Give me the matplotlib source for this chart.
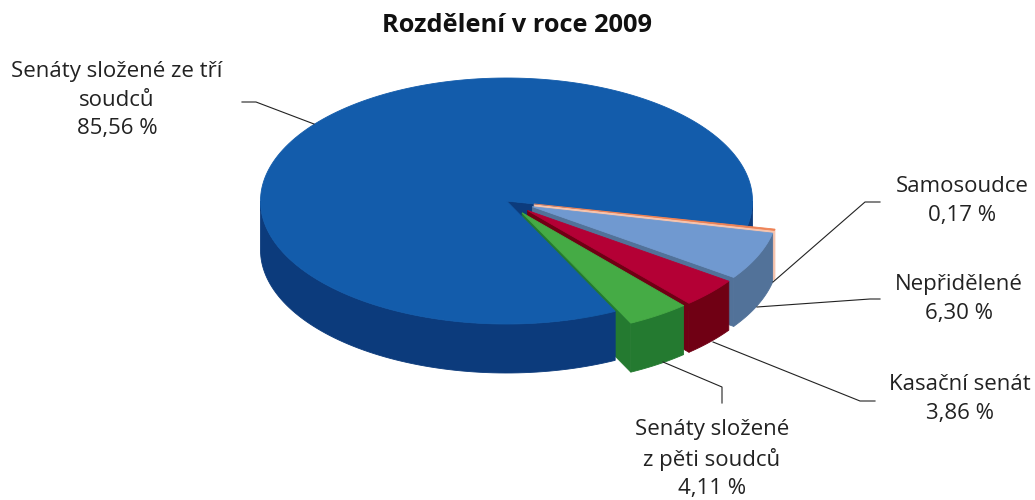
import numpy as np
import matplotlib
matplotlib.use("Agg")
import matplotlib.pyplot as plt
from matplotlib.patches import Polygon

plt.rcParams["font.family"] = ["Open Sans", "DejaVu Sans"]

# hodnoty v procentech, proti smeru hodinovych rucicek od zacatku hlavni vysece
labels = ["Senáty složené ze tří\nsoudců\n85,56 %", "Senáty složené\nz pěti soudců\n4,11 %",
          "Kasační senát\n3,86 %", "Nepřidělené\n6,30 %", "Samosoudce\n0,17 %"]
values = [85.56, 4.11, 3.86, 6.30, 0.17]
top_colors = ["#135CAB", "#45AB45", "#B40035", "#7099D0", "#EE8255"]
side_colors = ["#0C3B7C", "#247A30", "#700014", "#527299", "#F6C4AE"]

# geometrie v pixelech
cx, cy = 506.5, 201
rx, ry = 246, 123
depth = 49
start = -11.8 - 360
explode = [0, 0.115, 0.115, 0.115, 0.115]

fig = plt.figure(figsize=(10.35, 5), dpi=100)
ax = fig.add_axes([0, 0, 1, 1])
ax.set_xlim(0, 1035)
ax.set_ylim(500, 0)
ax.axis("off")


def point(t, ox=0, oy=0, down=0):
    t = np.radians(t)
    return np.column_stack([cx + ox + rx * np.cos(t), cy + oy - ry * np.sin(t) + down])


def fill(pts, color, edge=None):
    ax.add_patch(Polygon(pts, closed=True, facecolor=color, edgecolor=edge or color, linewidth=0.6))


def arc_wall(a, b, color, ox=0, oy=0):
    t = np.linspace(a, b, 80)
    fill(np.vstack([point(t, ox, oy), point(t[::-1], ox, oy, depth)]), color)


def cut_wall(a, color, ox=0, oy=0):
    o = np.array([[cx + ox, cy + oy]])
    fill(np.vstack([o, point(a, ox, oy), point(a, ox, oy, depth), o + [0, depth]]), color)


def top(a, b, color, ox=0, oy=0):
    t = np.linspace(a, b, 200)
    fill(np.vstack([[[cx + ox, cy + oy]], point(t, ox, oy)]), color)


# uhly vsech vyseci
angles = start + np.cumsum([0] + [v * 3.6 for v in values])
slices = []
for i in range(len(values)):
    mid = np.radians((angles[i] + angles[i + 1]) / 2)
    ox = explode[i] * rx * np.cos(mid)
    oy = -explode[i] * ry * np.sin(mid)
    slices.append((angles[i], angles[i + 1], ox, oy))

main_a, main_b = slices[0][0], slices[0][1]

# hlavni vysec - zadni casti
cut_wall(main_a, side_colors[0])
arc_wall(main_a, -360, side_colors[0])

# odtrzene vysece - steny odzadu dopredu
for i in [4, 3, 2, 1]:
    a, b, ox, oy = slices[i]
    cut_wall(a, side_colors[i], ox, oy)
    arc_wall(a, b, side_colors[i], ox, oy)

# hlavni vysec - predni stena a vrch
arc_wall(-180, main_b, side_colors[0])
top(main_a, main_b, top_colors[0])

for i in [4, 3, 2, 1]:
    a, b, ox, oy = slices[i]
    top(a, b, top_colors[i], ox, oy)

# popisky a vodici cary
ax.text(517, 25, "Rozdělení v roce 2009", fontsize=18.3, fontweight="bold", ha="center", va="center", color="#111111")

label_xy = [(117, 100), (712, 459), (960, 399), (959, 299), (962, 201)]
leaders = [
    [(242, 102), (256, 102), (314, 124)],
    [(663, 362), (722, 387), (722, 403)],
    [(713, 342), (860, 401), (875, 401)],
    [(757, 307), (870, 299), (880, 299)],
    [(773, 282), (865, 202), (880, 202)],
]
for lab, (x, y), line in zip(labels, label_xy, leaders):
    ax.text(x, y, lab, fontsize=16, ha="center", va="center", color="#222222", linespacing=1.45)
    xs, ys = zip(*line)
    ax.plot(xs, ys, color="#222222", lw=0.8)

fig.savefig("out.png", dpi=100)
